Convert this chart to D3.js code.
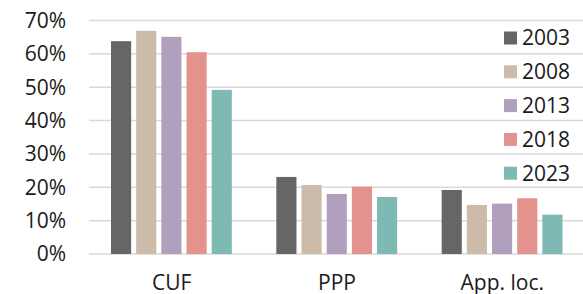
<!DOCTYPE html>
<html><head><meta charset="utf-8">
<script src="https://cdn.jsdelivr.net/npm/d3@7"></script>
<style>body{margin:0;background:#fff}svg{display:block}</style>
</head><body>
<svg id="c" width="583" height="294"></svg>
<script>
const categories = ["CUF", "PPP", "App. loc."];
const years = ["2003", "2008", "2013", "2018", "2023"];
const v2003 = [63.8, 23.1, 19.2];
const v2008 = [66.9, 20.7, 14.7];
const v2013 = [65.1, 18.0, 15.1];
const v2018 = [60.5, 20.2, 16.7];
const v2023 = [49.2, 17.1, 11.8];
const seriesValues = [v2003, v2008, v2013, v2018, v2023];
const colors = ["#666666", "#ccbba9", "#b0a0be", "#e4928e", "#7fb9b4"];
const yTicks = [0, 10, 20, 30, 40, 50, 60, 70];

const svg = d3.select("#c");
const font = "'Open Sans', sans-serif";
const fs = 21;
const x0 = d3.scaleBand().domain(categories).range([89, 585]).paddingInner(0).paddingOuter(0);
const x1 = d3.scaleBand().domain(years).range([22, x0.bandwidth() - 22.5]).paddingInner(0.2).paddingOuter(0);
const y = d3.scaleLinear().domain([0, 70]).range([254, 20.5]);

// gridlines
svg.append("g").selectAll("line").data(yTicks).join("line")
  .attr("x1", 89).attr("x2", 583)
  .attr("y1", d => y(d)).attr("y2", d => y(d))
  .attr("stroke", "#d9d9d9").attr("stroke-width", 1.5);

// y tick labels
svg.append("g").selectAll("text").data(yTicks).join("text")
  .attr("x", 66).attr("y", d => y(d)).attr("dy", "0.35em")
  .attr("text-anchor", "end").attr("font-family", font).attr("font-size", fs)
  .attr("fill", "#1a1a1a").text(d => d + "%");

// bars
const groups = svg.append("g").selectAll("g").data(categories).join("g")
  .attr("transform", d => `translate(${x0(d)},0)`);
groups.selectAll("rect").data((c, i) => years.map((yr, j) => ({yr, j, v: seriesValues[j][i]})))
  .join("rect")
  .attr("x", d => x1(d.yr)).attr("width", x1.bandwidth())
  .attr("y", d => y(d.v)).attr("height", d => y(0) - y(d.v))
  .attr("fill", d => colors[d.j]);

// category labels
svg.append("g").selectAll("text").data(categories).join("text")
  .attr("x", d => x0(d) + x0.bandwidth() / 2).attr("y", 289.5)
  .attr("text-anchor", "middle").attr("font-family", font).attr("font-size", fs)
  .attr("fill", "#1a1a1a").text(d => d);

// legend
const leg = svg.append("g").selectAll("g").data(years).join("g")
  .attr("transform", (d, i) => `translate(504,${38 + i * 33.8})`);
leg.append("rect").attr("x", 0).attr("y", -6.5).attr("width", 13).attr("height", 13)
  .attr("fill", (d, i) => colors[i]);
leg.append("text").attr("x", 18).attr("y", 0).attr("dy", "0.35em")
  .attr("font-family", font).attr("font-size", fs).attr("fill", "#1a1a1a").text(d => d);
</script>
</body></html>
